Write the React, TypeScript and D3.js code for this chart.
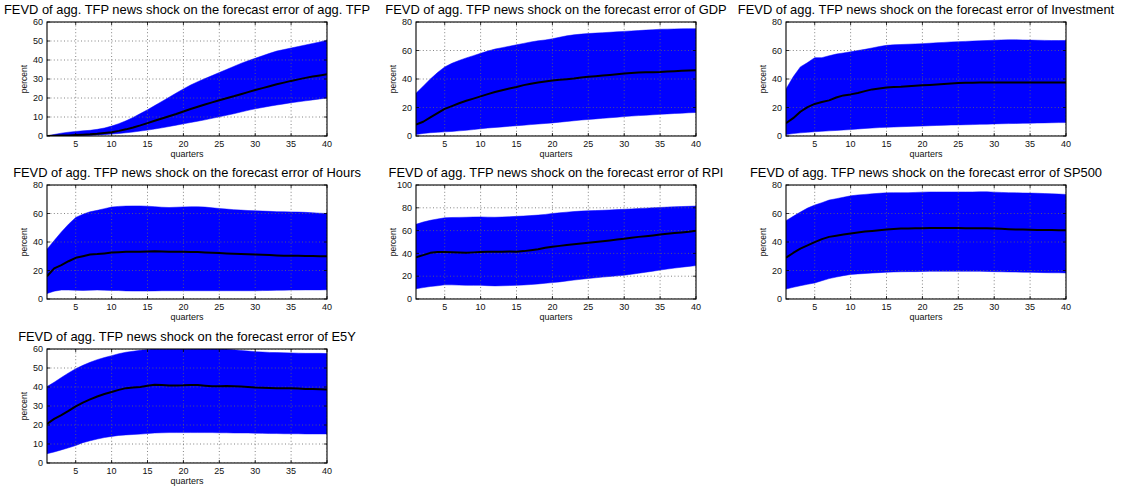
import React from "react";
import * as d3 from "d3";

const quarters = d3.range(1, 41);
const xTicks = [5, 10, 15, 20, 25, 30, 35, 40];

const titles = [
  "FEVD of agg. TFP news shock on the forecast error of agg. TFP",
  "FEVD of agg. TFP news shock on the forecast error of GDP",
  "FEVD of agg. TFP news shock on the forecast error of Investment",
  "FEVD of agg. TFP news shock on the forecast error of Hours",
  "FEVD of agg. TFP news shock on the forecast error of RPI",
  "FEVD of agg. TFP news shock on the forecast error of SP500",
  "FEVD of agg. TFP news shock on the forecast error of E5Y",
];

const yMax = [60, 80, 80, 80, 100, 80, 60];
const yStep = [10, 20, 20, 20, 20, 20, 10];

// TFP
const tfpMed = [0, 0.1, 0.2, 0.3, 0.5, 0.7, 0.9, 1.2, 1.6, 2.0, 2.7, 3.5, 4.5, 5.6, 6.8, 8.0, 9.2, 10.4, 11.6, 12.9, 14.2, 15.4, 16.6, 17.7, 18.8, 19.9, 20.9, 22.0, 23.1, 24.2, 25.2, 26.2, 27.2, 28.1, 29.0, 29.8, 30.6, 31.3, 31.9, 32.5];
const tfpUp = [0, 0.8, 1.5, 2.0, 2.4, 2.7, 3.0, 3.5, 4.2, 5.2, 6.5, 8.0, 9.8, 11.8, 13.8, 16.0, 18.2, 20.4, 22.6, 24.8, 26.8, 28.6, 30.2, 31.8, 33.4, 35.0, 36.6, 38.2, 39.6, 40.9, 42.2, 43.5, 44.7, 45.5, 46.3, 47.1, 47.9, 48.7, 49.5, 50.4];
const tfpLo = [0, 0, 0, 0.05, 0.1, 0.2, 0.3, 0.5, 0.7, 1.0, 1.3, 1.7, 2.1, 2.6, 3.1, 3.7, 4.3, 5.0, 5.7, 6.4, 7.1, 7.8, 8.5, 9.3, 10.1, 10.9, 11.7, 12.6, 13.5, 14.3, 15.0, 15.7, 16.3, 16.9, 17.5, 18.0, 18.5, 19.0, 19.5, 20.0];

// GDP
const gdpMed = [8, 10, 13, 16, 19, 21, 23, 24.7, 26.2, 27.8, 29.4, 30.9, 32.1, 33.3, 34.4, 35.7, 36.6, 37.5, 38.3, 39.0, 39.5, 39.9, 40.3, 41.0, 41.6, 42.0, 42.4, 42.8, 43.3, 43.8, 44.2, 44.5, 44.7, 44.8, 44.9, 45.2, 45.5, 45.8, 46.0, 46.1];
const gdpUp = [30, 35, 40, 44.5, 48.5, 51, 53, 54.8, 56.4, 58, 59.6, 61, 62, 63, 64, 65, 66, 66.8, 67.4, 68.2, 69.3, 70.3, 71, 71.5, 71.9, 72.2, 72.5, 72.8, 73.1, 73.4, 73.7, 74, 74.3, 74.6, 74.9, 75, 75.1, 75.2, 75.3, 75.3];
const gdpLo = [1, 1.8, 2.3, 2.6, 2.9, 3.2, 3.6, 4.0, 4.5, 5.1, 5.6, 6.0, 6.4, 6.8, 7.2, 7.6, 8.0, 8.4, 8.8, 9.2, 9.7, 10.2, 10.7, 11.2, 11.6, 12.0, 12.4, 12.8, 13.2, 13.6, 14.0, 14.3, 14.6, 14.9, 15.2, 15.5, 15.8, 16.0, 16.3, 16.5];

// Investment
const invMed = [9, 12.5, 17, 20.3, 22.5, 23.8, 25, 27, 28.5, 29.2, 30.2, 31.5, 32.7, 33.4, 34.0, 34.3, 34.5, 34.9, 35.3, 35.6, 35.8, 36.1, 36.5, 36.9, 37.2, 37.3, 37.4, 37.5, 37.6, 37.6, 37.6, 37.6, 37.6, 37.6, 37.6, 37.6, 37.6, 37.6, 37.6, 37.6];
const invUp = [33, 41.5, 48.5, 51.5, 55, 55, 56.3, 57.5, 58.3, 59.1, 60, 60.8, 61.8, 62.8, 63.6, 64, 64.2, 64.4, 64.6, 64.8, 65.1, 65.4, 65.7, 66.0, 66.2, 66.4, 66.6, 66.8, 67.0, 67.2, 67.4, 67.5, 67.5, 67.4, 67.3, 67.2, 67.1, 67.0, 67.0, 67.0];
const invLo = [1.0, 1.7, 2.2, 2.6, 3.0, 3.3, 3.6, 3.9, 4.2, 4.5, 4.9, 5.3, 5.6, 5.9, 6.1, 6.3, 6.5, 6.7, 6.9, 7.0, 7.2, 7.4, 7.5, 7.7, 7.8, 7.9, 8.0, 8.2, 8.3, 8.5, 8.6, 8.7, 8.8, 8.9, 9.0, 9.1, 9.2, 9.3, 9.4, 9.4];

// Hours
const hrsMed = [16, 21.5, 23.8, 26.5, 28.9, 30, 31.2, 31.5, 32, 32.6, 32.8, 33.1, 33.1, 33.1, 33.3, 33.5, 33.4, 33.2, 33.1, 33.1, 33.0, 32.9, 32.7, 32.5, 32.3, 32.0, 31.8, 31.6, 31.4, 31.2, 31.0, 30.8, 30.6, 30.4, 30.4, 30.3, 30.2, 30.1, 30.0, 30.0];
const hrsUp = [35, 41, 47, 52.5, 57.2, 59.5, 61.2, 62.2, 63.4, 64.5, 65, 65.2, 65.3, 65.3, 65.1, 64.8, 64.4, 64.2, 64.4, 64.6, 64.7, 64.7, 64.5, 64.0, 63.5, 63.1, 62.7, 62.4, 62.1, 61.9, 61.7, 61.5, 61.3, 61.2, 61.1, 61.0, 60.8, 60.5, 60.2, 60.0];
const hrsLo = [3.8, 5.5, 6.3, 6.3, 6.1, 6.0, 6.2, 6.3, 6.2, 6.0, 5.9, 5.7, 5.6, 5.6, 5.6, 5.7, 5.8, 5.8, 5.8, 5.8, 5.8, 5.8, 5.8, 5.8, 5.8, 5.8, 5.8, 5.8, 5.8, 5.8, 5.9, 6.0, 6.1, 6.2, 6.3, 6.3, 6.4, 6.4, 6.4, 6.5];

// RPI
const rpiMed = [36.5, 38.5, 40.5, 41.3, 41.2, 41.0, 40.8, 40.6, 40.9, 41.3, 41.5, 41.4, 41.4, 41.6, 41.5, 42.0, 42.8, 43.7, 44.9, 45.9, 46.6, 47.4, 48.0, 48.7, 49.4, 50.0, 50.7, 51.4, 52.2, 52.9, 53.8, 54.5, 55.1, 55.8, 56.6, 57.2, 57.8, 58.4, 59.0, 59.8];
const rpiUp = [65.5, 67.5, 69, 70.2, 71.2, 71.5, 71.6, 71.7, 71.9, 72, 71.8, 71.7, 71.9, 72.2, 72.5, 72.8, 73.2, 73.6, 74.2, 75.0, 75.6, 76.2, 76.7, 77.1, 77.4, 77.6, 77.8, 78.1, 78.4, 78.7, 79.0, 79.4, 79.7, 80.0, 80.3, 80.6, 80.9, 81.1, 81.3, 81.5];
const rpiLo = [9, 10, 11, 11.6, 12.4, 12.4, 12.2, 12.0, 12.0, 12.0, 11.7, 11.5, 11.6, 11.8, 12.0, 12.3, 12.7, 13.2, 13.8, 14.4, 15.0, 15.8, 16.6, 17.3, 18.0, 18.6, 19.2, 19.8, 20.3, 20.9, 21.7, 22.6, 23.5, 24.4, 25.4, 26.3, 27.1, 27.9, 28.6, 29.3];

// SP500
const spMed = [29, 32.3, 35.3, 37.6, 39.9, 42.0, 43.6, 44.4, 45.2, 46.0, 46.7, 47.3, 47.8, 48.3, 48.8, 49.2, 49.4, 49.5, 49.6, 49.7, 49.8, 49.8, 49.8, 49.8, 49.8, 49.7, 49.7, 49.7, 49.7, 49.5, 49.3, 49.0, 48.8, 48.7, 48.6, 48.5, 48.5, 48.4, 48.3, 48.3];
const spUp = [55, 58, 61, 63.8, 65.9, 67.6, 69.4, 70.4, 71.4, 72.4, 73.0, 73.4, 73.8, 74.2, 74.5, 74.6, 74.6, 74.6, 74.8, 75.0, 75.1, 75.1, 75.1, 75.1, 75.1, 75.1, 75.1, 75.2, 75.2, 75.0, 74.8, 74.6, 74.5, 74.4, 74.3, 74.2, 74.0, 73.8, 73.6, 73.4];
const spLo = [7, 8.2, 9.3, 10.3, 11.3, 12.8, 14.3, 15.4, 16.4, 17.2, 17.6, 17.9, 18.2, 18.5, 18.8, 19.0, 19.1, 19.2, 19.2, 19.3, 19.4, 19.4, 19.4, 19.4, 19.4, 19.4, 19.4, 19.4, 19.3, 19.2, 19.1, 19.0, 18.9, 18.8, 18.7, 18.6, 18.5, 18.4, 18.4, 18.3];

// E5Y
const e5yMed = [20.6, 23.2, 25.2, 27.4, 29.8, 31.8, 33.5, 35.0, 36.3, 37.4, 38.5, 39.4, 39.7, 40.0, 40.6, 41.2, 41.0, 40.8, 40.8, 40.9, 41.1, 41.0, 40.7, 40.4, 40.4, 40.5, 40.4, 40.2, 40.0, 39.7, 39.6, 39.5, 39.4, 39.4, 39.3, 39.2, 39.0, 38.9, 38.8, 38.7];
const e5yUp = [40.2, 42.5, 45, 47.4, 49.6, 51.4, 53.0, 54.4, 55.5, 56.5, 57.5, 58.3, 58.8, 59.3, 59.7, 60.2, 60.5, 60.6, 60.6, 60.6, 60.6, 60.6, 60.5, 60.4, 60.3, 60.0, 59.6, 59.2, 58.9, 58.6, 58.4, 58.2, 58.1, 58.0, 57.9, 57.8, 57.7, 57.7, 57.7, 57.6];
const e5yLo = [4.9, 5.8, 6.9, 8.0, 9.2, 10.7, 11.7, 12.6, 13.4, 14.0, 14.5, 14.8, 15.0, 15.2, 15.5, 15.8, 15.9, 16.0, 16.0, 16.0, 16.0, 16.0, 16.0, 16.0, 15.9, 15.9, 15.8, 15.8, 15.8, 15.7, 15.6, 15.5, 15.5, 15.4, 15.4, 15.4, 15.3, 15.3, 15.3, 15.3];

const medians = [tfpMed, gdpMed, invMed, hrsMed, rpiMed, spMed, e5yMed];
const uppers = [tfpUp, gdpUp, invUp, hrsUp, rpiUp, spUp, e5yUp];
const lowers = [tfpLo, gdpLo, invLo, hrsLo, rpiLo, spLo, e5yLo];

const colX = [47, 416, 786];
const rowY = [22, 185, 349];
const W = 280;
const H = 114;
const FONT = "'Liberation Sans', Arial, Helvetica, sans-serif";

function Panel({ idx }: { idx: number }) {
  const left = colX[idx % 3];
  const top = rowY[Math.floor(idx / 3)];
  const x = d3.scaleLinear().domain([1, 40]).range([0, W]);
  const y = d3.scaleLinear().domain([0, yMax[idx]]).range([H, 0]);
  const yTicks = d3.range(0, yMax[idx] + 0.001, yStep[idx]);
  const med = medians[idx];
  const up = uppers[idx];
  const lo = lowers[idx];
  const area = d3
    .area<number>()
    .x((q) => x(q))
    .y0((q, i) => y(lo[i]))
    .y1((q, i) => y(up[i]));
  const line = d3
    .line<number>()
    .x((q) => x(q))
    .y((q, i) => y(med[i]));
  const clipId = `clip${idx}`;
  const grid = "#666";
  return (
    <g transform={`translate(${left},${top})`}>
      <defs>
        <clipPath id={clipId}>
          <rect x={0} y={0} width={W} height={H} />
        </clipPath>
      </defs>
      <rect x={0} y={0} width={W} height={H} fill="#fff" />
      <g clipPath={`url(#${clipId})`}>
        <path d={area(quarters) || ""} fill="#0000ff" stroke="#0000ff" strokeWidth={0.5} />
        {xTicks.map((t) => (
          <line key={"gx" + t} x1={x(t)} x2={x(t)} y1={0} y2={H} stroke={grid} strokeWidth={0.8} strokeDasharray="1,2.4" />
        ))}
        {yTicks.map((t) => (
          <line key={"gy" + t} x1={0} x2={W} y1={y(t)} y2={y(t)} stroke={grid} strokeWidth={0.8} strokeDasharray="1,2.4" />
        ))}
        <path d={line(quarters) || ""} fill="none" stroke="#000" strokeWidth={2} strokeLinejoin="round" />
      </g>
      {xTicks.map((t) => (
        <g key={"tx" + t}>
          <line x1={x(t)} x2={x(t)} y1={H} y2={H - 3} stroke="#000" strokeWidth={0.8} />
          <line x1={x(t)} x2={x(t)} y1={0} y2={3} stroke="#000" strokeWidth={0.8} />
          <text x={x(t)} y={H + 11} textAnchor="middle" fontSize={9} fontFamily={FONT} fill="#111">
            {t}
          </text>
        </g>
      ))}
      {yTicks.map((t) => (
        <g key={"ty" + t}>
          <line x1={0} x2={3} y1={y(t)} y2={y(t)} stroke="#000" strokeWidth={0.8} />
          <line x1={W} x2={W - 3} y1={y(t)} y2={y(t)} stroke="#000" strokeWidth={0.8} />
          <text x={-4} y={y(t) + 3.2} textAnchor="end" fontSize={9} fontFamily={FONT} fill="#111">
            {t}
          </text>
        </g>
      ))}
      <rect x={0} y={0} width={W} height={H} fill="none" stroke="#000" strokeWidth={1.1} />
      <text x={W / 2} y={-8} textAnchor="middle" fontSize={12.9} fontFamily={FONT} fill="#000">
        {titles[idx]}
      </text>
      <text x={W / 2} y={H + 20.5} textAnchor="middle" fontSize={9} fontFamily={FONT} fill="#111">
        quarters
      </text>
      <text
        transform={`translate(${-20},${H / 2}) rotate(-90)`}
        textAnchor="middle"
        fontSize={8.5}
        fontFamily={FONT}
        fill="#111"
      >
        percent
      </text>
    </g>
  );
}

export default function App() {
  return (
    <svg
      width={1126}
      height={488}
      style={{ position: "absolute", left: 0, top: 0, display: "block", background: "#fff" }}
    >
      <rect x={0} y={0} width={1126} height={488} fill="#fff" />
      {titles.map((_, i) => (
        <Panel key={i} idx={i} />
      ))}
    </svg>
  );
}
